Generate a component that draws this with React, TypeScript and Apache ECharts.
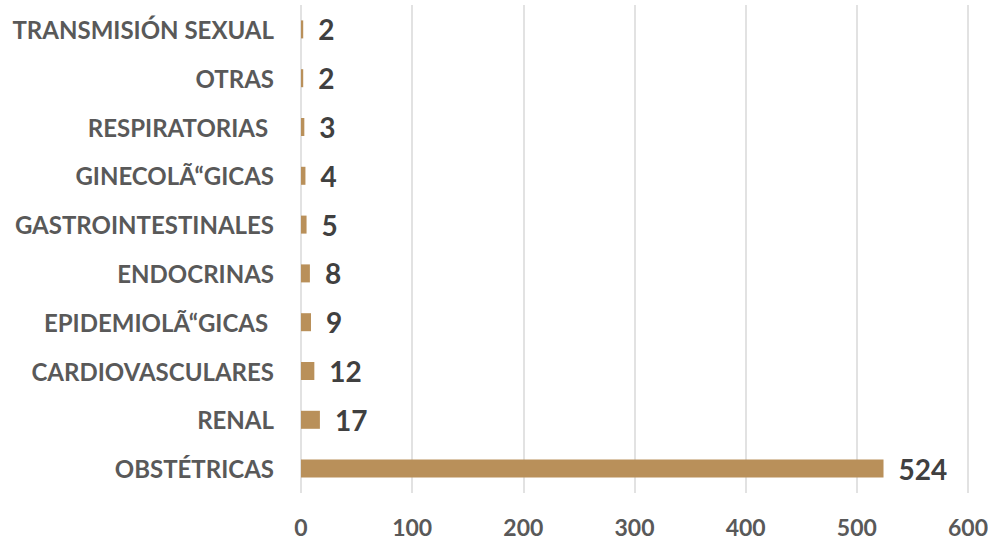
import React, { useEffect, useRef } from "react";
import * as echarts from "echarts";

const categories = [
  "OBSTÉTRICAS",
  "RENAL",
  "CARDIOVASCULARES",
  "EPIDEMIOLÃ“GICAS ",
  "ENDOCRINAS",
  "GASTROINTESTINALES",
  "GINECOLÃ“GICAS",
  "RESPIRATORIAS ",
  "OTRAS",
  "TRANSMISIÓN SEXUAL",
];
const values = [524, 17, 12, 9, 8, 5, 4, 3, 2, 2];
const xTicks = { min: 0, max: 600, interval: 100 };

const FONT = "Lato";

export default function App() {
  const ref = useRef<HTMLDivElement>(null);
  useEffect(() => {
    document.body.style.margin = "0";
    document.documentElement.style.overflow = "hidden";
    document.body.style.overflow = "hidden";
    const chart = echarts.init(ref.current!, null, { renderer: "svg" });
    chart.setOption({
      animation: false,
      backgroundColor: "#ffffff",
      grid: {
        left: 301,
        right: 20,
        top: 5,
        bottom: 50,
        containLabel: false,
        outerBoundsMode: "none",
      },
      xAxis: {
        type: "value",
        min: xTicks.min,
        max: xTicks.max,
        interval: xTicks.interval,
        axisLine: { show: false },
        axisTick: { show: false },
        splitLine: { show: true, lineStyle: { color: "#d9d9d9", width: 1.5 } },
        axisLabel: {
          color: "#595959",
          fontFamily: FONT,
          fontWeight: "bold",
          fontSize: 23,
          margin: 22,
        },
      },
      yAxis: {
        type: "category",
        data: categories,
        axisLine: { show: false },
        axisTick: { show: false },
        splitLine: { show: false },
        axisLabel: {
          color: "#595959",
          fontFamily: FONT,
          fontWeight: "bold",
          fontSize: 24,
          margin: 27,
        },
      },
      series: [
        {
          type: "bar",
          data: values,
          barWidth: 18,
          itemStyle: { color: "#b9905a" },
          label: {
            show: true,
            position: "right",
            distance: 15,
            color: "#404040",
            fontFamily: FONT,
            fontWeight: "bold",
            fontSize: 28,
          },
        },
      ],
    });
    return () => chart.dispose();
  }, []);
  return (
    <div
      style={{
        position: "fixed",
        left: 0,
        top: 0,
        width: 988,
        height: 543,
        overflow: "hidden",
      }}
    >
      <div ref={ref} style={{ width: 988, height: 543 }} />
    </div>
  );
}
